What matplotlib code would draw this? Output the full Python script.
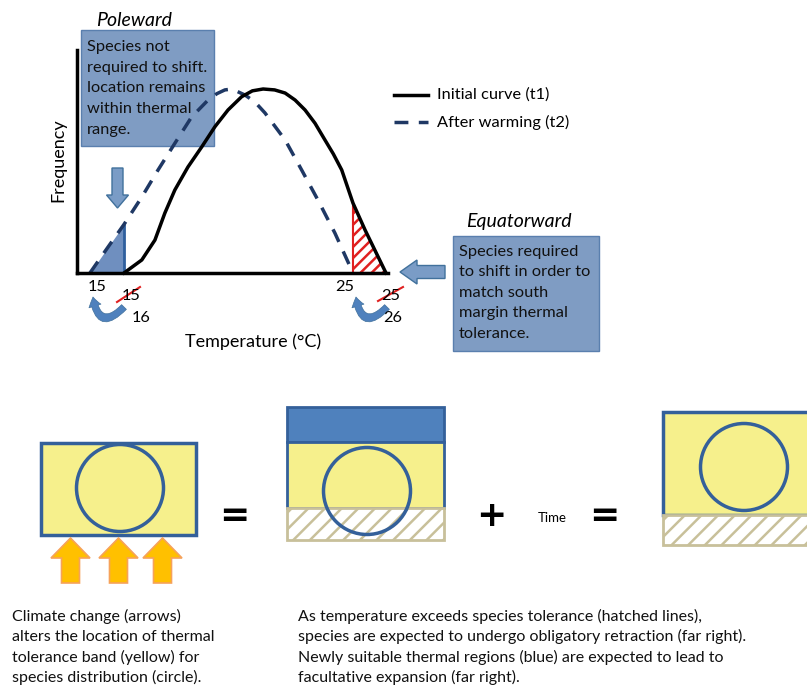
import matplotlib
matplotlib.use("Agg")
import matplotlib.pyplot as plt
from matplotlib.patches import Rectangle, Circle, FancyArrow, FancyArrowPatch, ArrowStyle

plt.rcParams["font.family"] = ["Lato", "DejaVu Sans"]
plt.rcParams["hatch.linewidth"] = 1.8

# curve data (temperature, relative frequency)
initial_temp = [16.0, 16.68, 17.18, 17.56, 17.94, 18.44, 18.97, 19.47, 19.97, 20.49,
                20.9, 21.31, 21.75, 22.15, 22.53, 22.91, 23.29, 23.67, 23.99, 24.31,
                24.74, 25.2, 26.0]
initial_freq = [0.0, 0.071, 0.179, 0.326, 0.451, 0.576, 0.686, 0.795, 0.886, 0.958,
                0.99, 1.0, 0.995, 0.978, 0.94, 0.886, 0.814, 0.723, 0.647, 0.56,
                0.38, 0.234, 0.0]
warmed_temp = [14.7, 15.39, 16.0, 16.68, 17.3, 17.95, 18.58, 19.21, 19.55, 19.85, 20.12,
               20.62, 21.0, 21.38, 22.15, 22.78, 23.4, 24.05, 24.74]
warmed_freq = [0.0, 0.141, 0.264, 0.413, 0.56, 0.707, 0.848, 0.94, 0.975, 0.995, 1.0,
               0.967, 0.929, 0.87, 0.723, 0.56, 0.397, 0.217, 0.0]

legend_labels = ["Initial curve (t1)", "After warming (t2)"]
pole_text = ["Species not", "required to shift.", "location remains",
             "within thermal", "range."]
equator_text = ["Species required", "to shift in order to", "match south",
                "margin thermal", "tolerance."]
left_caption = ["Climate change (arrows)", "alters the location of thermal",
                "tolerance band (yellow) for", "species distribution (circle)."]
right_caption = ["As temperature exceeds species tolerance (hatched lines),",
                 "species are expected to undergo obligatory retraction (far right).",
                 "Newly suitable thermal regions (blue) are expected to lead to",
                 "facultative expansion (far right)."]

BOX_BLUE = "#7f9cc3"
ARROW_BLUE = "#4f81bd"
NAVY = "#1f3864"
EDGE_NAVY = "#34609a"
YELLOW = "#f6f08c"
TAN = "#c8c09a"

fig = plt.figure(figsize=(8.07, 6.86), dpi=100)
bg = fig.add_axes([0, 0, 1, 1], zorder=0)
bg.set_xlim(0, 807)
bg.set_ylim(686, 0)
bg.axis("off")


def text_lines(ax, x, y0, lines, dy, **kw):
    for i, line in enumerate(lines):
        ax.text(x, y0 + i * dy, line, va="center", ha="left", **kw)


# --- top panel: annotation boxes behind the curves
bg.add_patch(Rectangle((81, 30), 133, 116, fc=BOX_BLUE, ec="#5a7fae", lw=1))
text_lines(bg, 87, 47, pole_text, 20.7, fontsize=11.8, color="#111111")
bg.text(134, 20, "Poleward", style="italic", fontsize=14, ha="center", va="center")

bg.add_patch(Rectangle((453, 236), 146, 115, fc=BOX_BLUE, ec="#5a7fae", lw=1))
text_lines(bg, 459, 252, equator_text, 20.5, fontsize=11.8, color="#111111")
bg.text(519, 222, "Equatorward", style="italic", fontsize=14, ha="center", va="center")

bg.add_patch(FancyArrow(117.5, 168, 0, 40, width=11, head_width=22, head_length=13,
                        length_includes_head=True, fc="#7a9cc6", ec="#41719c", lw=1))
bg.add_patch(FancyArrow(445, 272, -45, 0, width=13, head_width=24, head_length=17,
                        length_includes_head=True, fc="#7a9cc6", ec="#41719c", lw=1))

# legend
bg.plot([394, 428], [95, 95], color="black", lw=2.5)
bg.plot([394, 428], [122, 122], color=NAVY, lw=2.5, dashes=(4, 3))
bg.text(437, 95, legend_labels[0], fontsize=11.8, va="center")
bg.text(437, 122, legend_labels[1], fontsize=11.8, va="center")

# axis labels and temperature marks
bg.text(58, 160, "Frequency", rotation=90, fontsize=13, ha="center", va="center")
bg.text(253, 342, "Temperature (\u00b0C)", fontsize=13, ha="center", va="center")
for x, y, s in [(97, 287, "15"), (131, 296, "15"), (141, 318, "16"),
                (345, 287, "25"), (391, 296, "25"), (393, 318, "26")]:
    bg.text(x, y, s, fontsize=11.8, ha="center", va="center")
bg.plot([117, 140], [302, 287], color="#e02020", lw=1.5)
bg.plot([378, 403], [301, 287], color="#e02020", lw=1.5)
shift_style = ArrowStyle.Simple(head_length=0.55, head_width=0.75, tail_width=0.4)
for start, end in [((124, 307), (93, 297)), ((387, 307), (356, 297))]:
    bg.add_patch(FancyArrowPatch(start, end, connectionstyle="arc3,rad=-1.0",
                                 arrowstyle=shift_style, mutation_scale=12,
                                 shrinkA=0, shrinkB=0, fc=ARROW_BLUE, ec="#41719c",
                                 lw=0.5))

# --- curve axes
cax = fig.add_axes([77 / 807, (686 - 273) / 686, (388 - 77) / 807, (273 - 50) / 686],
                   zorder=1)
cax.patch.set_alpha(0)
cax.set_xlim(16 - 47 / 26.2, 16 + 264 / 26.2)
cax.set_ylim(0, 223 / 184)
for side in ("top", "right"):
    cax.spines[side].set_visible(False)
for side in ("left", "bottom"):
    cax.spines[side].set_linewidth(2.5)
cax.set_xticks([])
cax.set_yticks([])

cax.fill_between(warmed_temp[:3], warmed_freq[:3], color="#6f8fbf", lw=0)
cax.vlines(initial_temp[0], 0, warmed_freq[2], color="#2f5f9e", lw=2)
cax.fill_between(initial_temp[-3:], initial_freq[-3:], facecolor="none",
                 edgecolor="#e02020", hatch="///", lw=1.5)
cax.plot(warmed_temp, warmed_freq, color=NAVY, lw=2.5, dashes=(4, 3), clip_on=False)
cax.plot(initial_temp, initial_freq, color="black", lw=2.5, clip_on=False)

# --- bottom panel
bg.add_patch(Rectangle((41, 443), 155, 92, fc=YELLOW, ec=EDGE_NAVY, lw=2.5))
bg.add_patch(Circle((120, 488), 43.5, fc="none", ec=EDGE_NAVY, lw=2.5))
for cx in (70.5, 118.5, 162.5):
    bg.add_patch(FancyArrow(cx, 583, 0, -45, width=18, head_width=39, head_length=20,
                            length_includes_head=True, fc="#ffc000", ec="#f6a25a", lw=1.2))

bg.add_patch(Rectangle((287, 407), 157, 35, fc=ARROW_BLUE, ec=EDGE_NAVY, lw=2))
bg.add_patch(Rectangle((287, 442), 157, 66, fc=YELLOW, ec=EDGE_NAVY, lw=2))
bg.add_patch(Rectangle((287, 508), 157, 32, fc="white", ec=TAN, hatch="//", lw=2))
bg.add_patch(Circle((367, 491), 43.5, fc="none", ec=EDGE_NAVY, lw=2.5))

bg.add_patch(Rectangle((663, 412), 170, 103, fc=YELLOW, ec=EDGE_NAVY, lw=2.5))
bg.add_patch(Rectangle((663, 515), 170, 30, fc="white", ec=TAN, hatch="//", lw=2))
bg.add_patch(Circle((744, 467), 43.5, fc="none", ec=EDGE_NAVY, lw=2.5))

for x, s in [(234, "="), (491, "+"), (604, "=")]:
    bg.text(x, 516, s, fontsize=26, fontweight="bold", family="DejaVu Sans",
            ha="center", va="center")
bg.text(552, 518, "Time", fontsize=9.5, ha="center", va="center")

text_lines(bg, 12, 616, left_caption, 20.6, fontsize=11.5, color="#111111")
text_lines(bg, 298, 616, right_caption, 20.6, fontsize=11.5, color="#111111")

fig.savefig("out.png", dpi=100)
